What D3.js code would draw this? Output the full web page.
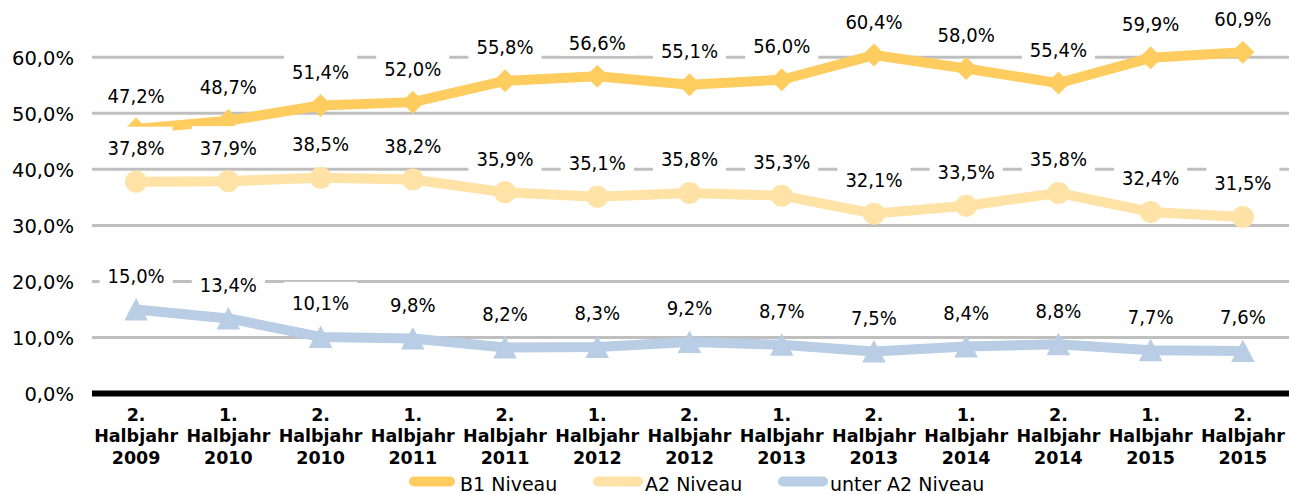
<!DOCTYPE html>
<html>
<head>
<meta charset="utf-8">
<script src="https://cdn.jsdelivr.net/npm/d3@7"></script>
<style>
  html, body { margin: 0; padding: 0; background: #fff; }
  svg { display: block; }
  text { font-family: "DejaVu Sans", sans-serif; fill: #000; }
</style>
</head>
<body>
<svg id="chart" width="1289" height="494"></svg>
<script>
const categories = ["2. Halbjahr 2009", "1. Halbjahr 2010", "2. Halbjahr 2010", "1. Halbjahr 2011",
  "2. Halbjahr 2011", "1. Halbjahr 2012", "2. Halbjahr 2012", "1. Halbjahr 2013",
  "2. Halbjahr 2013", "1. Halbjahr 2014", "2. Halbjahr 2014", "1. Halbjahr 2015", "2. Halbjahr 2015"];
const b1Values = [47.2, 48.7, 51.4, 52.0, 55.8, 56.6, 55.1, 56.0, 60.4, 58.0, 55.4, 59.9, 60.9];
const a2Values = [37.8, 37.9, 38.5, 38.2, 35.9, 35.1, 35.8, 35.3, 32.1, 33.5, 35.8, 32.4, 31.5];
const unterA2Values = [15.0, 13.4, 10.1, 9.8, 8.2, 8.3, 9.2, 8.7, 7.5, 8.4, 8.8, 7.7, 7.6];
const seriesNames = ["B1 Niveau", "A2 Niveau", "unter A2 Niveau"];
const yTicks = [0, 10, 20, 30, 40, 50, 60];

const colors = ["#FFCC5F", "#FFE2A6", "#B9CDE5"];
const markers = ["diamond", "circle", "triangle"];
const seriesValues = [b1Values, a2Values, unterA2Values];

const locale = d3.formatLocale({decimal: ",", thousands: ".", grouping: [3], currency: ["", "€"]});
const fmt = v => locale.format(".1f")(v) + "%";

const svg = d3.select("#chart");
const x = d3.scalePoint().domain(d3.range(categories.length)).range([90, 1289]).padding(0.5);
const y = d3.scaleLinear().domain([0, 60]).range([393.5, 57.3]);

// gridlines
svg.append("g").selectAll("line").data(yTicks.filter(t => t > 0)).join("line")
  .attr("x1", 92).attr("x2", 1289)
  .attr("y1", d => y(d)).attr("y2", d => y(d))
  .attr("stroke", "#BFBFBF").attr("stroke-width", 3);

// y axis labels
const yAxis = d3.axisLeft(y).tickValues(yTicks).tickSize(0).tickPadding(0).tickFormat(fmt);
const gy = svg.append("g").attr("transform", "translate(74,0)").call(yAxis);
gy.select(".domain").remove();
gy.selectAll("text").attr("dy", 7).style("font-size", "19.5px").style("font-family", "DejaVu Sans").attr("fill", "#000");

// zero axis line
svg.append("line").attr("x1", 92).attr("x2", 1289).attr("y1", y(0)).attr("y2", y(0))
  .attr("stroke", "#000").attr("stroke-width", 6);

// x axis labels
const lineBaselines = [420.5, 441.5, 463.5];
const gx = svg.append("g");
categories.forEach((c, i) => {
  const parts = c.split(" ");
  const t = gx.append("text").attr("text-anchor", "middle")
    .style("font-size", "17.5px").style("font-weight", "bold");
  parts.forEach((p, j) => {
    t.append("tspan").attr("x", x(i)).attr("y", lineBaselines[j]).text(p);
  });
});

// lines and markers
const lineGen = d3.line().x((d, i) => x(i)).y(d => y(d));
function markerPath(type) {
  if (type === "diamond") return "M0,-11.5L11.5,0L0,11.5L-11.5,0Z";
  if (type === "triangle") return "M0,-11.5L11.8,11L-11.8,11Z";
  return d3.arc()({innerRadius: 0, outerRadius: 11, startAngle: 0, endAngle: 2 * Math.PI});
}
seriesValues.forEach((vals, s) => {
  const g = svg.append("g");
  g.append("path").datum(vals).attr("d", lineGen)
    .attr("fill", "none").attr("stroke", colors[s]).attr("stroke-width", 10)
    .attr("stroke-linejoin", "round");
  g.selectAll("path.m").data(vals).join("path").attr("class", "m")
    .attr("transform", (d, i) => `translate(${x(i)},${y(d)})`)
    .attr("d", markerPath(markers[s])).attr("fill", colors[s]);
});

// data labels with white backgrounds
const labelScaleX = 0.9;
seriesValues.forEach((vals, s) => {
  const g = svg.append("g");
  vals.forEach((v, i) => {
    const bx = x(i), by = y(v) - 26.5;
    const lg = g.append("g");
    const rect = lg.append("rect").attr("fill", "#fff");
    const t = lg.append("text").attr("transform", `translate(${bx},${by}) scale(${labelScaleX},1)`)
      .attr("text-anchor", "middle").style("font-size", "20px").text(fmt(v));
    const w = t.node().getComputedTextLength() * labelScaleX;
    rect.attr("x", bx - w / 2 - 8).attr("y", by - 28.5).attr("width", w + 16).attr("height", 34.5);
  });
});

// legend
const legendItems = [
  {name: seriesNames[0], x1: 409, x2: 455, tx: 460},
  {name: seriesNames[1], x1: 593, x2: 643, tx: 645},
  {name: seriesNames[2], x1: 778, x2: 828, tx: 830}
];
const lg = svg.append("g");
legendItems.forEach((it, k) => {
  lg.append("line").attr("x1", it.x1 + 5).attr("x2", it.x2 - 5).attr("y1", 481.5).attr("y2", 481.5)
    .attr("stroke", colors[k]).attr("stroke-width", 10).attr("stroke-linecap", "round");
  lg.append("text").attr("x", it.tx).attr("y", 491).style("font-size", "19px").text(it.name);
});
</script>
</body>
</html>
